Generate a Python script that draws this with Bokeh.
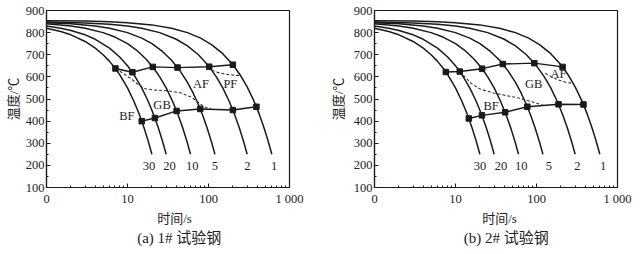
from bokeh.plotting import figure
from bokeh.layouts import row
from bokeh.models import FixedTicker, ColumnDataSource, Title
from bokeh.core.properties import value
from bokeh.embed import file_html
from bokeh.resources import INLINE

# ---------------- data ----------------
x_ticks = [1, 10, 100, 1000]
x_tick_labels = ["0", "10", "100", "1 000"]
x_minor = [2, 3, 4, 5, 6, 7, 8, 9, 20, 30, 40, 50, 60, 70, 80, 90,
           200, 300, 400, 500, 600, 700, 800, 900]
y_ticks = [100, 200, 300, 400, 500, 600, 700, 800, 900]
y_minor = [150, 250, 350, 450, 550, 650, 750, 850]

rate_names = ["30", "20", "10", "5", "2", "1"]

# cooling curves: time (s), temperature (C)
c30_t = [1, 1.5, 2, 3, 4, 5, 6, 7, 8, 10, 12, 14, 16, 18, 20]
c30_T = [820, 805, 790, 760, 730, 700, 670, 640, 610, 550, 490, 430, 370, 310, 250]
c20_t = [1, 1.5, 2, 3, 4, 6, 8, 10, 12, 15, 18, 21, 24, 27, 30]
c20_T = [830, 820, 810, 790, 770, 730, 690, 650, 610, 550, 490, 430, 370, 310, 250]
c10_t = [1, 2, 3, 5, 7, 10, 13, 17, 21, 25, 30, 36, 42, 48, 54, 60]
c10_T = [840, 830, 820, 800, 780, 750, 720, 680, 640, 600, 550, 490, 430, 370, 310, 250]
c5_t = [1, 2, 4, 6, 10, 15, 20, 27, 35, 45, 55, 65, 75, 85, 96, 108, 120]
c5_T = [845, 840, 830, 820, 800, 775, 750, 715, 675, 625, 575, 525, 475, 425, 370, 310, 250]
c2_t = [1, 3, 6, 10, 15, 25, 40, 55, 75, 100, 125, 150, 180, 210, 240, 270, 300]
c2_T = [848, 844, 838, 830, 820, 800, 770, 740, 700, 650, 600, 550, 490, 430, 370, 310, 250]
c1_t = [1, 3, 6, 10, 20, 35, 55, 80, 110, 150, 200, 250, 300, 360, 420, 480, 540, 605]
c1_T = [854, 852, 849, 845, 835, 820, 800, 775, 745, 705, 655, 605, 555, 495, 435, 375, 315, 250]

# (a) 1# steel
a_start_t = [7.1, 11.5, 20.5, 41.5, 102, 200]
a_start_T = [638, 621, 645, 642, 646, 655]
a_end_t = [15, 21.8, 40.4, 79, 200, 390]
a_end_T = [400, 414, 446, 455, 450, 465]
a_dash1_t = [7.1, 9.0, 11.4, 13.1, 16.6, 21, 31, 45, 60, 72, 87, 110]
a_dash1_T = [638, 614, 588, 569, 546, 541, 537, 528, 510, 490, 465, 453]
a_dash2_t = [110, 125, 140, 177, 215, 247]
a_dash2_T = [630, 622, 617, 610, 607, 607]
a_phase = ["BF", "GB", "AF", "PF"]
a_phase_t = [9.8, 26.7, 81, 186]
a_phase_T = [424, 475, 570, 570]
a_rate_t = [18.4, 33, 63, 120, 302, 645]
a_rate_T = [198, 198, 198, 198, 198, 198]

# (b) 2# steel
b_start_t = [7.6, 11.3, 21.3, 38.4, 94, 210]
b_start_T = [622, 624, 637, 658, 662, 645]
b_end_t = [14.6, 21.2, 41, 77, 187, 380]
b_end_T = [412, 426, 440, 465, 476, 475]
b_dash1_t = [11.3, 13.2, 15.9, 20.2, 29.5, 43.1, 62.9, 91.8, 122]
b_dash1_T = [624, 598, 568, 545, 527, 515, 503, 485, 471]
b_dash2_t = [128, 155, 187, 226, 285]
b_dash2_T = [616, 600, 586, 576, 570]
b_phase = ["AF", "GB", "BF"]
b_phase_t = [187, 92, 27.5]
b_phase_T = [612, 567, 470]
b_rate_t = [20, 36.5, 65, 142, 320, 665]
b_rate_T = [197, 197, 197, 197, 197, 197]

curves = [(c30_t, c30_T), (c20_t, c20_T), (c10_t, c10_T),
          (c5_t, c5_T), (c2_t, c2_T), (c1_t, c1_T)]

FRAME_W = 243
FRAME_H = 177
TOP = 10
INK = "#1a1a1a"
TXT = "#222222"
SERIF = "Liberation Serif"
MIX = "Liberation Serif, Noto Sans CJK SC"


def make_fig(left, right, start_t, start_T, end_t, end_T, dashes,
             phase, phase_t, phase_T, rate_t, rate_T,
             ytitle_standoff, xtitle_off, caption, cap_off):
    p = figure(width=320, height=254, x_axis_type="log", x_range=(1, 1000),
               y_range=(100, 900), output_backend="svg", toolbar_location=None,
               min_border_left=left, min_border_right=right, min_border_top=TOP,
               min_border_bottom=254 - TOP - FRAME_H,
               background_fill_color="white", border_fill_color="white")
    p.grid.visible = False
    p.outline_line_color = INK
    p.outline_line_width = 1.2

    xa = p.xaxis[0]
    xa.ticker = FixedTicker(ticks=x_ticks, minor_ticks=x_minor)
    xa.major_label_overrides = {k: v for k, v in zip(x_ticks, x_tick_labels)}
    xa.major_label_standoff = 4
    ya = p.yaxis[0]
    ya.ticker = FixedTicker(ticks=y_ticks, minor_ticks=y_minor)
    ya.major_label_standoff = 2
    for ax in (xa, ya):
        ax.major_tick_in = 4
        ax.major_tick_out = 0
        ax.minor_tick_in = 2
        ax.minor_tick_out = 0
        ax.axis_line_color = INK
        ax.axis_line_width = 1.2
        ax.major_tick_line_color = INK
        ax.minor_tick_line_color = INK
        ax.major_label_text_font = SERIF
        ax.major_label_text_font_size = "12.5px"
        ax.major_label_text_color = TXT

    for (ct, cT) in curves:
        p.line(ct, cT, line_color=INK, line_width=1.5)
    for (dt, dT) in dashes:
        p.line(dt, dT, line_color="#333333", line_width=1.1, line_dash="3 2")
    p.line(start_t, start_T, line_color=INK, line_width=1.4)
    p.line(end_t, end_T, line_color=INK, line_width=1.4)
    p.scatter(start_t, start_T, marker="square", size=5.5, color=INK)
    p.scatter(end_t, end_T, marker="square", size=5.5, color=INK)

    ps = ColumnDataSource(dict(x=phase_t, y=phase_T, text=phase))
    p.text(x="x", y="y", text="text", source=ps, text_font=value(SERIF),
           text_font_size=value("12.5px"), text_color=TXT,
           text_align="center", text_baseline="middle")
    rs = ColumnDataSource(dict(x=rate_t, y=rate_T, text=rate_names))
    p.text(x="x", y="y", text="text", source=rs, text_font=value(SERIF),
           text_font_size=value("12.5px"), text_color=TXT,
           text_align="center", text_baseline="middle")

    yt = Title(text="温度/℃", align="center", standoff=ytitle_standoff,
               text_font=MIX, text_font_size="13px", text_font_style="normal",
               text_color=TXT)
    p.add_layout(yt, "left")
    xt = Title(text="时间/s", align="left", offset=xtitle_off, standoff=0,
               text_font=MIX, text_font_size="13px", text_font_style="normal",
               text_color=TXT)
    p.add_layout(xt, "below")
    ct = Title(text=caption, align="left", offset=cap_off, standoff=5,
               text_font=MIX, text_font_size="15px", text_font_style="normal",
               text_color=TXT)
    p.add_layout(ct, "below")
    return p


pa = make_fig(46, 320 - 46 - FRAME_W, a_start_t, a_start_T, a_end_t, a_end_T,
              [(a_dash1_t, a_dash1_T), (a_dash2_t, a_dash2_T)],
              a_phase, a_phase_t, a_phase_T, a_rate_t, a_rate_T,
              4, 110.7, "(a) 1# 试验钢", 90.7)
pb = make_fig(54, 320 - 54 - FRAME_W, b_start_t, b_start_T, b_end_t, b_end_T,
              [(b_dash1_t, b_dash1_T), (b_dash2_t, b_dash2_T)],
              b_phase, b_phase_t, b_phase_T, b_rate_t, b_rate_T,
              10, 107.7, "(b) 2# 试验钢", 89.3)

layout = row(pa, pb)
open("out.html", "w").write(file_html(layout, INLINE))
